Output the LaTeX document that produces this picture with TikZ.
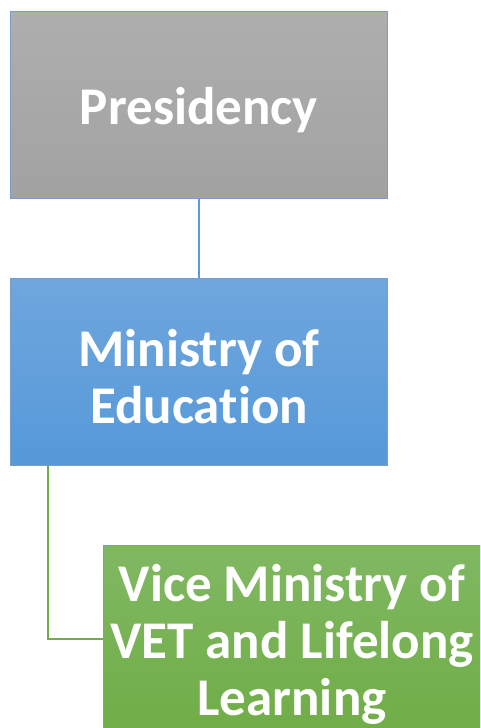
\documentclass[tikz,border=0pt]{standalone}
\usepackage{fontspec}
\setmainfont{Carlito}[Ligatures=NoCommon]
\usetikzlibrary{positioning}

\definecolor{boxline}{HTML}{7A9CC6}
\definecolor{greytop}{HTML}{AEAEAE}
\definecolor{greybot}{HTML}{A2A2A2}
\definecolor{bluetop}{HTML}{6FA6DD}
\definecolor{bluebot}{HTML}{5699D9}
\definecolor{greentop}{HTML}{80B862}
\definecolor{greenbot}{HTML}{70AD47}
\definecolor{blueline}{HTML}{5B9BD5}
\definecolor{greenline}{HTML}{70AD47}

\begin{document}
\begin{tikzpicture}[x=1pt, y=1pt,
    orgbox/.style={draw=boxline, line width=1pt, minimum width=377pt,
    minimum height=187pt, inner sep=0pt,
    label={[boxtext]center:#1}},
    boxtext/.style={yshift=-5pt, align=center, text=white,
    font=\bfseries\fontsize{53}{57}\selectfont},
    grey/.style={orgbox={#1}, top color=greytop, bottom color=greybot},
    blue/.style={orgbox={#1}, top color=bluetop, bottom color=bluebot},
    green/.style={orgbox={#1}, top color=greentop, bottom color=greenbot},
    ]

    \clip (0,0) rectangle (480,-728);

    \node[grey={Presidency}] (pres) at (199,-105) {};
    \node[blue={Ministry of\\Education}, below=79pt of pres] (minis) {};
    \node[green={Vice Ministry of\\VET and Lifelong\\Learning}] (vice) at (292,-639) {};

    \draw[blueline, line width=2.5pt] (pres.south) -- (minis.north);
    \draw[greenline, line width=2.5pt] (minis.south west) ++(38,0) |- (vice.west);
\end{tikzpicture}
\end{document}
